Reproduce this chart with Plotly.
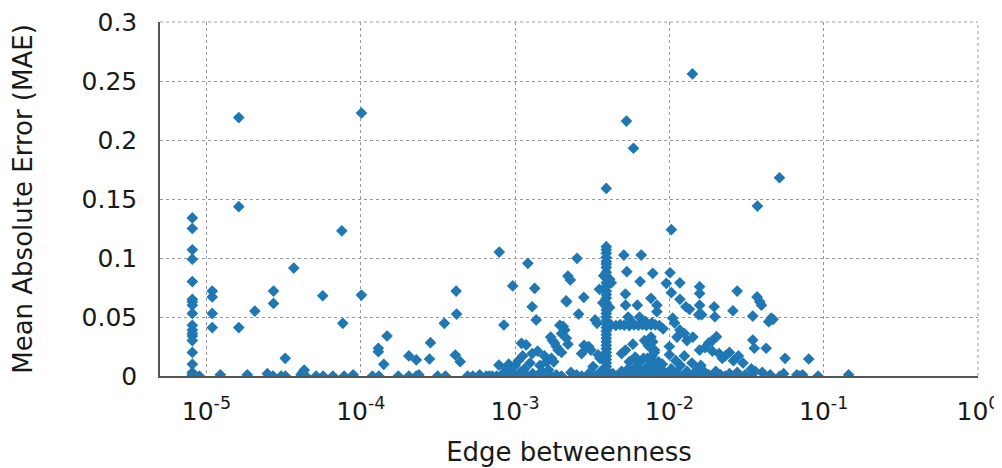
import plotly.graph_objects as go
import math

# Edge betweenness (x) and MAE (y)
betweenness = [
    # left column ~8e-6
    8.1e-6, 8.1e-6, 8.1e-6, 8.1e-6, 8.1e-6, 8.1e-6, 8.1e-6, 8.1e-6, 8.1e-6, 8.1e-6,
    8.1e-6, 8.1e-6, 8.1e-6, 8.1e-6, 8.1e-6, 8.1e-6, 8.1e-6, 8.1e-6, 8.1e-6, 9.0e-6,
    1.09e-5, 1.09e-5, 1.09e-5, 1.09e-5, 1.23e-5, 1.62e-5, 1.62e-5, 1.62e-5, 1.84e-5, 2.06e-5,
    2.48e-5, 2.55e-5, 2.72e-5, 2.72e-5, 2.7e-5, 3.05e-5, 3.25e-5, 3.24e-5, 3.68e-5,
    4.1e-5, 4.3e-5, 4.4e-5, 4.2e-5, 5.14e-5, 5.67e-5, 5.7e-5, 6.6e-5,
    7.54e-5, 7.65e-5, 7.8e-5, 8.93e-5, 1.01e-4, 1.01e-4,
    1.19e-4, 1.31e-4, 1.3e-4, 1.3e-4, 1.41e-4, 1.48e-4, 1.75e-4,
    2.05e-4, 2.05e-4, 2.29e-4, 2.38e-4, 2.29e-4, 2.79e-4, 2.83e-4, 3.15e-4, 3.54e-4, 3.48e-4,
    4.15e-4, 4.18e-4, 4.1e-4, 4.41e-4, 4.93e-4, 5.32e-4, 6.5e-4, 7.1e-4, 7.6e-4,
    7.86e-4, 7.9e-4, 8.46e-4, 8.8e-4, 9.1e-4, 9.4e-4, 9.0e-4, 9.66e-4,
    1.1e-3, 1.18e-3, 1.21e-3, 1.34e-3, 1.29e-3, 1.37e-3, 1.12e-3, 1.29e-3,
    1.0e-3, 1.05e-3, 1.15e-3, 1.25e-3, 1.4e-3, 1.45e-3, 1.55e-3, 1.6e-3, 1.65e-3, 1.5e-3,
    1.7e-3, 1.75e-3, 1.8e-3, 1.85e-3, 1.9e-3, 2.0e-3, 1.95e-3, 2.05e-3, 2.1e-3, 2.0e-3,
    2.15e-3, 2.2e-3, 1.72e-3, 1.78e-3,
    2.2e-3, 2.28e-3, 2.14e-3, 2.16e-3, 2.52e-3, 2.79e-3, 2.58e-3,
    2.8e-3, 2.9e-3, 3.0e-3, 3.1e-3, 2.7e-3, 3.3e-3, 3.4e-3, 3.52e-3, 3.45e-3, 3.55e-3, 3.2e-3,
    # vertical column ~3.9e-3
    3.9e-3, 3.9e-3, 3.9e-3, 3.9e-3, 3.9e-3, 3.9e-3, 3.9e-3, 3.9e-3, 3.9e-3, 3.9e-3,
    3.9e-3, 3.9e-3, 3.9e-3, 3.9e-3, 3.9e-3, 3.9e-3, 3.9e-3, 3.9e-3, 3.9e-3, 3.9e-3,
    3.9e-3, 3.9e-3, 3.9e-3, 3.9e-3, 3.9e-3, 3.9e-3, 3.9e-3, 3.9e-3, 3.9e-3, 3.9e-3,
    3.9e-3, 3.9e-3, 3.9e-3, 3.9e-3, 3.9e-3, 3.9e-3, 3.9e-3, 3.9e-3,
    3.75e-3, 4.1e-3, 4.2e-3, 3.7e-3, 4.1e-3,
    # horizontal band ~0.043
    4.2e-3, 4.5e-3, 4.8e-3, 5.1e-3, 5.5e-3, 5.9e-3, 6.3e-3, 6.7e-3, 7.1e-3, 7.6e-3, 8.1e-3, 8.6e-3,
    # upper right
    5.27e-3, 5.85e-3, 1.41e-2, 1.03e-2, 3.72e-2, 5.17e-2,
    5.07e-3, 6.57e-3, 5.3e-3, 7.8e-3, 6.46e-3, 5.19e-3, 5.2e-3, 6.2e-3, 7.6e-3, 8.3e-3, 8.3e-3,
    5.4e-3, 5.7e-3, 6.4e-3, 7.0e-3, 7.7e-3,
    6.9e-3, 7.3e-3, 8.0e-3, 6.8e-3, 8.5e-3, 4.9e-3, 5.2e-3, 5.8e-3, 5.5e-3,
    7.6e-3, 7.8e-3, 7.4e-3, 8.0e-3, 7.7e-3, 7.9e-3, 7.5e-3, 8.1e-3,
    1.01e-2, 9.55e-3, 1.17e-2, 1.03e-2, 1.57e-2, 1.57e-2, 2.75e-2, 3.7e-2, 3.85e-2, 3.95e-2,
    1.17e-2, 1.35e-2, 1.28e-2, 1.57e-2, 1.62e-2, 1.55e-2, 1.95e-2, 1.97e-2, 2.58e-2, 3.47e-2,
    4.57e-2, 4.4e-2, 4.7e-2, 1.05e-2, 1.08e-2, 9.1e-3,
    1.17e-2, 1.12e-2, 1.3e-2, 1.42e-2, 1.25e-2, 2.02e-2, 3.47e-2, 3.55e-2, 4.24e-2,
    1.57e-2, 1.9e-2, 2.1e-2, 2.45e-2, 2.3e-2, 2.2e-2, 2.8e-2, 1.0e-2, 1.0e-2,
    5.62e-2, 8.0e-2, 1.9e-2, 1.8e-2, 1.7e-2, 2.6e-2, 3.0e-2, 3.4e-2, 3.6e-2, 4.0e-2,
    # bottom band right of column
    4.3e-3, 4.6e-3, 4.9e-3, 5.1e-3, 5.4e-3, 5.6e-3, 5.9e-3, 6.1e-3, 6.3e-3, 6.6e-3,
    6.8e-3, 7.0e-3, 7.2e-3, 7.5e-3, 7.8e-3, 8.2e-3, 8.5e-3, 8.9e-3, 9.3e-3, 9.8e-3,
    1.03e-2, 1.08e-2, 1.12e-2, 1.18e-2, 1.25e-2, 1.3e-2, 1.38e-2, 1.45e-2, 1.52e-2, 1.6e-2,
    1.7e-2, 1.8e-2, 1.9e-2, 2.0e-2, 2.15e-2, 2.3e-2, 2.45e-2, 2.6e-2, 2.75e-2, 2.9e-2,
    3.1e-2, 3.3e-2, 4.5e-2, 5.2e-2, 5.5e-2, 6.7e-2, 7.0e-2, 7.3e-2, 9.2e-2, 0.145,
    6.5e-3, 7.2e-3, 9.0e-3, 1.1e-2, 1.25e-2, 1.4e-2, 6.0e-3, 1.6e-2,
    # bottom band left of column
    5.9e-4, 6.8e-4, 8.2e-4, 1.0e-3, 1.08e-3, 1.2e-3, 1.3e-3, 1.38e-3, 1.5e-3, 1.7e-3,
    1.85e-3, 2.0e-3, 2.3e-3, 2.5e-3, 2.7e-3, 3.0e-3, 3.3e-3, 3.6e-3, 3.7e-3,
]

mae = [
    0.134, 0.125, 0.107, 0.099, 0.080, 0.065, 0.063, 0.060, 0.053, 0.043,
    0.039, 0.036, 0.034, 0.030, 0.020, 0.010, 0.003, 0.001, 0.0, 0.0,
    0.072, 0.067, 0.053, 0.041, 0.001, 0.219, 0.1435, 0.041, 0.001, 0.055,
    0.002, 0.0, 0.072, 0.0615, 0.0, 0.0, 0.0, 0.015, 0.0915,
    0.001, 0.005, 0.0, 0.003, 0.0, 0.068, 0.0, 0.0,
    0.123, 0.0446, 0.0, 0.001, 0.0686, 0.2229,
    0.0, 0.0, 0.0235, 0.0206, 0.0099, 0.0339, 0.0,
    0.017, 0.0, 0.0, 0.001, 0.0136, 0.0144, 0.0282, 0.0, 0.0, 0.0446,
    0.072, 0.0525, 0.0178, 0.0121, 0.0, 0.0, 0.0, 0.0, 0.0,
    0.0093, 0.105, 0.0432, 0.006, 0.010, 0.003, 0.0, 0.0763,
    0.0277, 0.0263, 0.0955, 0.0743, 0.0587, 0.0475, 0.017, 0.019,
    0.009, 0.013, 0.006, 0.011, 0.021, 0.009, 0.017, 0.012, 0.005, 0.0,
    0.033, 0.030, 0.028, 0.025, 0.022, 0.020, 0.043, 0.042, 0.039, 0.036,
    0.032, 0.027, 0.015, 0.012,
    0.0847, 0.0814, 0.0636, 0.063, 0.0997, 0.0667, 0.0525,
    0.026, 0.024, 0.025, 0.022, 0.019, 0.0475, 0.0446, 0.0735, 0.018, 0.015, 0.008,
    0.159, 0.1096, 0.107, 0.104, 0.1005, 0.097, 0.095, 0.092, 0.088, 0.085,
    0.083, 0.079, 0.076, 0.072, 0.069, 0.066, 0.062, 0.059, 0.056, 0.053,
    0.050, 0.047, 0.044, 0.041, 0.038, 0.035, 0.032, 0.029, 0.026, 0.023,
    0.020, 0.017, 0.014, 0.011, 0.008, 0.005, 0.002, 0.0,
    0.085, 0.082, 0.079, 0.062, 0.058,
    0.0432, 0.0428, 0.0435, 0.0431, 0.0427, 0.0433, 0.043, 0.0436, 0.0429, 0.0432, 0.0434, 0.0428,
    0.216, 0.193, 0.256, 0.124, 0.144, 0.168,
    0.1025, 0.1025, 0.0884, 0.087, 0.080, 0.0695, 0.060, 0.060, 0.0658, 0.060, 0.0545,
    0.050, 0.046, 0.050, 0.046, 0.045,
    0.030, 0.026, 0.020, 0.015, 0.012, 0.019, 0.022, 0.027, 0.012,
    0.033, 0.029, 0.025, 0.022, 0.017, 0.013, 0.009, 0.006,
    0.0875, 0.0785, 0.079, 0.0706, 0.0757, 0.070, 0.072, 0.067, 0.063, 0.060,
    0.065, 0.0565, 0.0587, 0.060, 0.052, 0.052, 0.0587, 0.0502, 0.0553, 0.0508,
    0.049, 0.046, 0.048, 0.049, 0.045, 0.040,
    0.039, 0.033, 0.030, 0.033, 0.036, 0.0333, 0.0305, 0.0235, 0.0235,
    0.022, 0.021, 0.019, 0.020, 0.017, 0.015, 0.017, 0.025, 0.018,
    0.015, 0.0144, 0.030, 0.028, 0.024, 0.013, 0.011, 0.006, 0.004, 0.003,
    0.002, 0.0, 0.004, 0.001, 0.006, 0.0, 0.003, 0.008, 0.001, 0.004,
    0.0, 0.006, 0.002, 0.0, 0.003, 0.001, 0.005, 0.0, 0.003, 0.001,
    0.006, 0.0, 0.003, 0.009, 0.001, 0.004, 0.0, 0.002, 0.006, 0.0,
    0.003, 0.001, 0.0, 0.004, 0.001, 0.0, 0.002, 0.0, 0.003, 0.0,
    0.001, 0.0, 0.001, 0.0, 0.002, 0.001, 0.0, 0.001, 0.0, 0.001,
    0.012, 0.015, 0.010, 0.013, 0.017, 0.011, 0.016, 0.009,
    0.001, 0.0, 0.001, 0.0, 0.003, 0.0, 0.002, 0.0, 0.004, 0.0,
    0.001, 0.0, 0.003, 0.001, 0.0, 0.002, 0.0, 0.004, 0.001,
]

x_tick_vals = [1e-5, 1e-4, 1e-3, 1e-2, 1e-1, 1e0]
x_tick_text = ["10<sup>-5</sup>", "10<sup>-4</sup>", "10<sup>-3</sup>",
               "10<sup>-2</sup>", "10<sup>-1</sup>", "10<sup>0</sup>"]
y_tick_vals = [0, 0.05, 0.1, 0.15, 0.2, 0.25, 0.3]
y_tick_text = ["0", "0.05", "0.1", "0.15", "0.2", "0.25", "0.3"]

n = min(len(betweenness), len(mae))

fig = go.Figure()
fig.add_trace(go.Scatter(
    x=betweenness[:n], y=mae[:n], mode="markers",
    marker=dict(symbol="diamond", size=9, color="#1f77b4", line=dict(width=0)),
    showlegend=False,
))

font = "DejaVu Sans, sans-serif"
# the page body adds an 8 px offset, so the figure is 8 px smaller than the window
fig.update_layout(
    width=994, height=460,
    margin=dict(l=152, r=24, t=14, b=92, autoexpand=False),
    paper_bgcolor="white", plot_bgcolor="white",
    font=dict(family=font, size=25, color="#1a1a1a"),
    xaxis=dict(
        type="log", range=[math.log10(5e-6), 0], automargin=False,
        tickvals=x_tick_vals, ticktext=x_tick_text,
        tickfont=dict(family=font, size=25, color="#1a1a1a"),
        showgrid=True, gridcolor="#999", griddash="dot", gridwidth=1,
        showline=True, linecolor="#555", linewidth=1.5,
        ticks="", ticklabelstandoff=12, ticklabeloverflow="allow", zeroline=False,
        title=dict(text="Edge betweenness", standoff=18,
                   font=dict(family=font, size=26, color="#1a1a1a")),
    ),
    yaxis=dict(
        range=[0, 0.3], automargin=False,
        tickvals=y_tick_vals, ticktext=y_tick_text,
        tickfont=dict(family=font, size=25, color="#1a1a1a"),
        showgrid=True, gridcolor="#999", griddash="dot", gridwidth=1,
        showline=True, linecolor="#555", linewidth=1.5,
        ticks="", ticklabelstandoff=16, ticklabeloverflow="allow", zeroline=False,
        title=dict(text="Mean Absolute Error (MAE)", standoff=50,
                   font=dict(family=font, size=26, color="#1a1a1a")),
    ),
)
# dotted frame on top and right
fig.add_shape(type="line", xref="paper", yref="paper", x0=0, x1=1, y0=1, y1=1,
              line=dict(color="#999", width=1, dash="dot"))
fig.add_shape(type="line", xref="paper", yref="paper", x0=1, x1=1, y0=0, y1=1,
              line=dict(color="#999", width=1, dash="dot"))

fig.write_html("out.html")
